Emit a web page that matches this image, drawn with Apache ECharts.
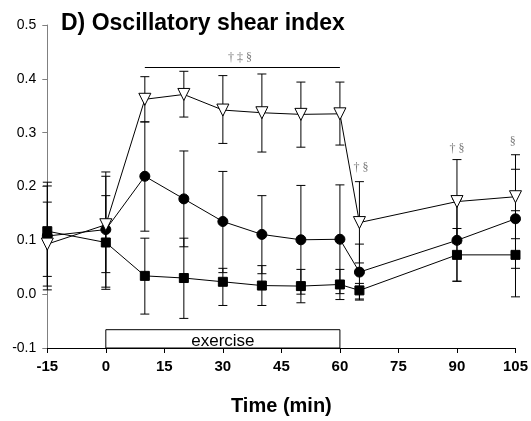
<!DOCTYPE html>
<html>
<head>
<meta charset="utf-8">
<script src="https://cdn.jsdelivr.net/npm/echarts@6/dist/echarts.min.js"></script>
<style>html,body{margin:0;padding:0;background:#fff}#c{width:531px;height:421px}</style>
</head>
<body>
<div id="c"></div>
<script>
// ---- data ----
const times = [-15, 0, 10, 20, 30, 40, 50, 60, 65, 90, 105];
const xTicks = [-15, 0, 15, 30, 45, 60, 75, 90, 105];
const yTicks = [-0.1, 0.0, 0.1, 0.2, 0.3, 0.4, 0.5];

const triMean = [0.093, 0.129, 0.362, 0.371, 0.342, 0.337, 0.334, 0.335, 0.133, 0.172, 0.181];
const triLow  = [0.015, 0.040, 0.320, 0.329, 0.280, 0.264, 0.273, 0.277, 0.058, 0.094, 0.103];
const triHigh = [0.171, 0.219, 0.404, 0.414, 0.406, 0.409, 0.394, 0.394, 0.209, 0.250, 0.259];

const cirMean = [0.108, 0.120, 0.219, 0.177, 0.135, 0.111, 0.101, 0.102, 0.041, 0.100, 0.140];
const cirLow  = [0.008, 0.013, 0.117, 0.088, 0.040, 0.038, 0.000, 0.001, -0.011, 0.024, 0.048];
const cirHigh = [0.208, 0.227, 0.320, 0.266, 0.228, 0.183, 0.202, 0.203, 0.093, 0.176, 0.232];

const sqMean = [0.117, 0.096, 0.034, 0.030, 0.023, 0.016, 0.015, 0.018, 0.007, 0.073, 0.073];
const sqLow  = [0.033, 0.009, -0.037, -0.045, -0.021, -0.021, -0.016, -0.010, -0.009, 0.024, -0.005];
const sqHigh = [0.201, 0.183, 0.104, 0.104, 0.048, 0.053, 0.046, 0.046, 0.020, 0.122, 0.155];

const exercisePeriod = [0, 60];
const exerciseBox = [-0.1, -0.066];
const sigBar = {from: 10, to: 60, level: 0.422};
const annotations = [
  [34.4, 0.439, '† ‡ §'],
  [65.4, 0.234, '† §'],
  [90.0, 0.270, '† §'],
  [104.3, 0.283, '§']
];

const FONT = 'Liberation Sans, Arial, sans-serif';

function errorSeries(low, high) {
  return {
    type: 'custom',
    silent: true,
    z: 1,
    encode: {x: 0, y: [1, 2]},
    data: times.map((t, i) => [t, low[i], high[i]]),
    renderItem: function (params, api) {
      const x = api.value(0);
      const lo = api.coord([x, api.value(1)]);
      const hi = api.coord([x, api.value(2)]);
      const hw = 4.5;
      const st = {stroke: '#000', lineWidth: 1};
      return {
        type: 'group',
        children: [
          {type: 'line', shape: {x1: lo[0], y1: lo[1], x2: hi[0], y2: hi[1]}, style: st},
          {type: 'line', shape: {x1: lo[0] - hw, y1: lo[1], x2: lo[0] + hw, y2: lo[1]}, style: st},
          {type: 'line', shape: {x1: hi[0] - hw, y1: hi[1], x2: hi[0] + hw, y2: hi[1]}, style: st}
        ]
      };
    }
  };
}

function lineSeries(mean, symbol, size, fill, extra) {
  return Object.assign({
    type: 'line',
    z: 3,
    data: times.map((t, i) => [t, mean[i]]),
    symbol: symbol,
    symbolSize: size,
    showAllSymbol: true,
    lineStyle: {color: '#000', width: 1},
    itemStyle: {color: fill, borderColor: '#000', borderWidth: 1},
    emphasis: {disabled: true}
  }, extra || {});
}

const chart = echarts.init(document.getElementById('c'), null, {renderer: 'canvas'});
chart.setOption({
  animation: false,
  backgroundColor: '#fff',
  title: {
    text: 'D) Oscillatory shear index',
    left: 56, top: 7,
    textStyle: {fontFamily: FONT, fontSize: 23, fontWeight: 'bold', color: '#000'}
  },
  grid: {left: 47.3, right: 15.3, top: 25, bottom: 68.7, containLabel: false},
  xAxis: {
    type: 'value',
    min: xTicks[0], max: xTicks[xTicks.length - 1], interval: 15,
    name: 'Time (min)', nameLocation: 'middle', nameGap: 48,
    nameTextStyle: {fontFamily: FONT, fontSize: 20, fontWeight: 'bold', color: '#000'},
    axisLine: {onZero: false, lineStyle: {color: '#000', width: 1}},
    axisTick: {show: true, length: 5, lineStyle: {color: '#000'}},
    axisLabel: {fontFamily: FONT, fontSize: 15, fontWeight: 'bold', color: '#000', margin: 11},
    splitLine: {show: false}
  },
  yAxis: {
    type: 'value',
    min: yTicks[0], max: yTicks[yTicks.length - 1], interval: 0.1,
    axisLine: {show: true, onZero: false, lineStyle: {color: '#808080', width: 1}},
    axisTick: {show: true, length: 5, lineStyle: {color: '#808080'}},
    axisLabel: {fontFamily: FONT, fontSize: 14, color: '#000', margin: 11,
      formatter: v => (Math.abs(v) < 1e-9 ? 0 : v).toFixed(1)},
    splitLine: {show: false}
  },
  series: [
    errorSeries(sqLow, sqHigh),
    errorSeries(cirLow, cirHigh),
    errorSeries(triLow, triHigh),
    lineSeries(sqMean, 'rect', 9, '#000', {
      markArea: {
        silent: true,
        itemStyle: {color: '#fff', borderColor: '#000', borderWidth: 1},
        label: {show: true, position: 'inside', fontFamily: FONT, fontSize: 17, color: '#000', offset: [0, 2]},
        data: [[{name: 'exercise', coord: [exercisePeriod[0], exerciseBox[0]]},
                {coord: [exercisePeriod[1], exerciseBox[1]]}]]
      }
    }),
    lineSeries(cirMean, 'circle', 10, '#000'),
    lineSeries(triMean, 'triangle', 12, '#fff', {
      symbolRotate: 180,
      markLine: {
        silent: true,
        symbol: ['none', 'none'],
        lineStyle: {color: '#000', width: 1, type: 'solid'},
        label: {show: false},
        data: [[{coord: [sigBar.from, sigBar.level]}, {coord: [sigBar.to, sigBar.level]}]]
      }
    }),
    {
      type: 'scatter',
      silent: true,
      z: 4,
      symbolSize: 0,
      data: annotations,
      label: {
        show: true, position: 'inside',
        formatter: p => p.value[2],
        fontFamily: 'Liberation Serif, Times New Roman, serif',
        fontSize: 12, color: '#555'
      }
    }
  ]
});
</script>
</body>
</html>
